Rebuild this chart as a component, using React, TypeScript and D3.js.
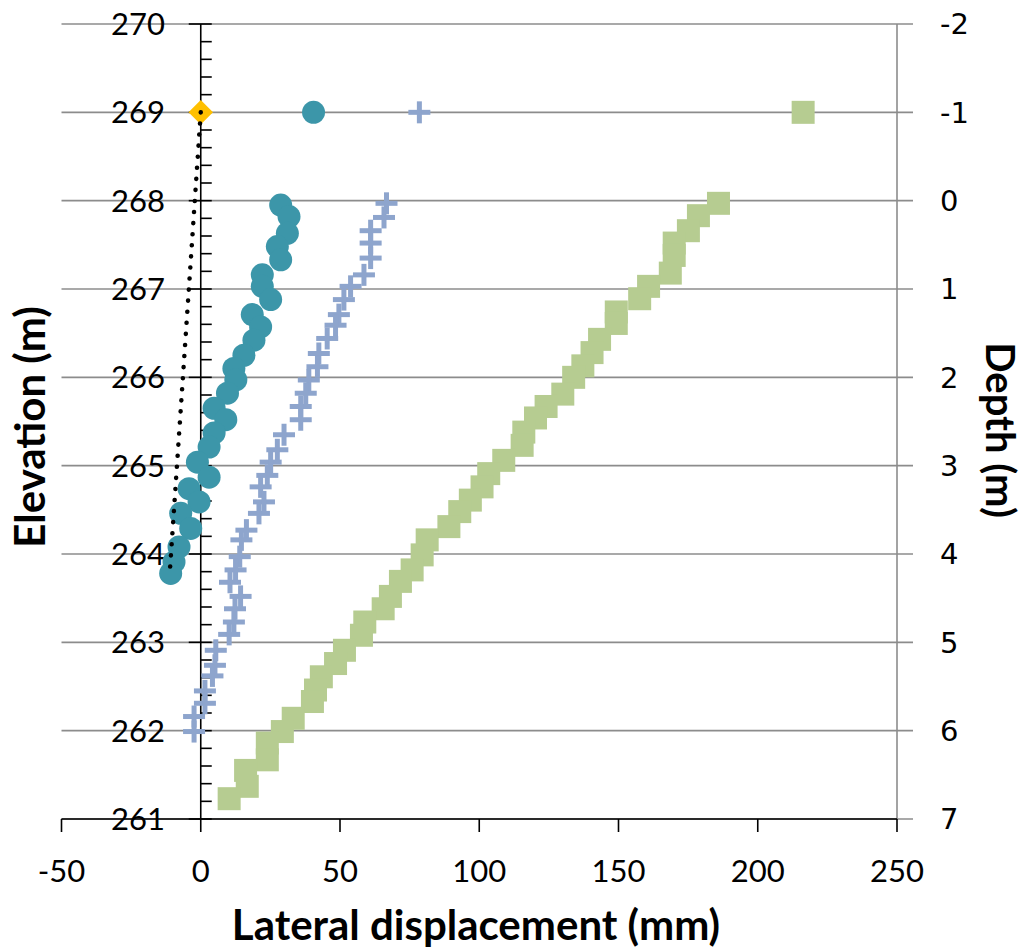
import React from "react";
import * as d3 from "d3";

const xTicks = [-50, 0, 50, 100, 150, 200, 250];
const yTicks = [261, 262, 263, 264, 265, 266, 267, 268, 269, 270];
const depthLabels = ["7", "6", "5", "4", "3", "2", "1", "0", "-1", "-2"];

// Surface reference (diamond) and dotted line
const refPoint = { x: 0, y: 269 };
const dottedX = [0, -11];
const dottedY = [269, 263.85];

// Circles series
const circX = [40.5, 28.7, 31.7, 31.1, 27.5, 28.7, 22.1, 22.1, 25.1, 18.5, 21.5, 19.1, 15.5, 11.9, 12.6, 9.6, 4.8, 9.0, 4.8, 3.0, -1.2, 3.0, -4.2, -0.6, -7.2, -3.6, -7.8, -9.6, -10.8];
const circY = [269, 267.95, 267.82, 267.63, 267.48, 267.33, 267.16, 267.03, 266.88, 266.71, 266.57, 266.42, 266.25, 266.10, 265.97, 265.82, 265.65, 265.52, 265.37, 265.21, 265.04, 264.87, 264.74, 264.59, 264.46, 264.29, 264.08, 263.91, 263.78];

// Cross series
const crossX = [78.5, 66.7, 65.8, 61.0, 61.0, 61.0, 58.6, 53.8, 51.4, 49.6, 48.4, 45.4, 42.4, 41.9, 38.8, 37.7, 35.9, 35.9, 29.9, 27.5, 25.1, 23.9, 21.5, 22.7, 20.9, 16.4, 14.6, 14.0, 12.5, 10.5, 14.3, 12.3, 11.9, 10.2, 5.4, 5.1, 4.2, 1.5, 1.5, -2.4, -2.4];
const crossY = [269, 267.97, 267.81, 267.66, 267.52, 267.35, 267.16, 267.03, 266.88, 266.71, 266.59, 266.44, 266.27, 266.12, 265.97, 265.82, 265.67, 265.52, 265.35, 265.18, 265.04, 264.89, 264.76, 264.59, 264.46, 264.27, 264.16, 263.97, 263.82, 263.68, 263.52, 263.38, 263.23, 263.09, 262.91, 262.74, 262.62, 262.45, 262.31, 262.16, 261.99];

// Square series
const sqX = [216.3, 185.9, 178.7, 175.1, 170.0, 170.0, 168.6, 160.8, 157.6, 149.2, 149.2, 143.2, 140.5, 137.2, 133.9, 130.0, 124.0, 120.2, 116.0, 115.4, 108.8, 103.4, 101.0, 96.8, 93.0, 89.1, 81.3, 79.5, 75.9, 71.7, 68.1, 65.5, 58.9, 57.7, 51.6, 48.4, 43.3, 41.2, 40.1, 33.2, 29.3, 23.9, 23.9, 16.1, 16.7, 10.2];
const sqY = [269, 267.97, 267.83, 267.66, 267.52, 267.38, 267.18, 267.03, 266.89, 266.74, 266.61, 266.43, 266.28, 266.13, 266.0, 265.81, 265.67, 265.54, 265.38, 265.23, 265.06, 264.91, 264.76, 264.61, 264.48, 264.31, 264.16, 263.99, 263.82, 263.69, 263.52, 263.38, 263.23, 263.08, 262.91, 262.76, 262.61, 262.46, 262.33, 262.14, 261.99, 261.86, 261.67, 261.55, 261.37, 261.23];

const W = 1029;
const H = 948;
const x = d3.scaleLinear().domain([-50, 250]).range([61.5, 897]);
const y = d3.scaleLinear().domain([261, 270]).range([819, 24]);

const minorTicks = d3.range(261, 270.001, 0.2).filter((v) => Math.abs(v - Math.round(v)) > 0.01);

const labelFont = "Lato, 'Open Sans', sans-serif";
const titleFont = "Lato, 'Open Sans', sans-serif";

export default function App() {
  const dotted = d3.line<number>().x((d, i) => x(dottedX[i])).y((d, i) => y(dottedY[i]))(dottedX);
  const diamond = d3.symbol().type(d3.symbolSquare).size(300)();
  return (
    <svg width={W} height={H} style={{ position: "absolute", left: 0, top: 0, background: "#fff" }}>
      {/* gridlines */}
      {yTicks.map((t) => (
        <line key={"g" + t} x1={x(-50)} x2={x(250) + 16} y1={y(t)} y2={y(t)} stroke="#8c8c8c" strokeWidth={1.6} />
      ))}
      {/* right axis */}
      <line x1={x(250)} x2={x(250)} y1={y(270)} y2={y(261)} stroke="#8c8c8c" strokeWidth={1.6} />
      {/* x axis */}
      <line x1={x(-50)} x2={x(250)} y1={y(261)} y2={y(261)} stroke="#000" strokeWidth={1.6} />
      {xTicks.map((t) => (
        <line key={"xt" + t} x1={x(t)} x2={x(t)} y1={y(261)} y2={y(261) + 13} stroke="#000" strokeWidth={1.6} />
      ))}
      {/* left axis at x=0 */}
      <line x1={x(0)} x2={x(0)} y1={y(270)} y2={y(261)} stroke="#000" strokeWidth={1.6} />
      {yTicks.map((t) => (
        <line key={"yt" + t} x1={x(0) - 12} x2={x(0) + 11} y1={y(t)} y2={y(t)} stroke="#000" strokeWidth={1.6} />
      ))}
      {minorTicks.map((t) => (
        <line key={"ym" + t} x1={x(0)} x2={x(0) + 11} y1={y(t)} y2={y(t)} stroke="#000" strokeWidth={1.6} />
      ))}
      {/* tick labels */}
      {yTicks.map((t) => (
        <text key={"yl" + t} x={165} y={y(t)} dy="0.36em" textAnchor="end" fontFamily={labelFont} fontSize={31} fill="#000">
          {t}
        </text>
      ))}
      {yTicks.map((t, i) => (
        <text key={"dl" + t} x={940} y={y(t)} dy="0.36em" textAnchor="start" fontFamily="'DejaVu Sans', sans-serif" fontSize={29} fill="#000">
          {depthLabels[i]}
        </text>
      ))}
      {xTicks.map((t) => (
        <text key={"xl" + t} x={x(t)} y={882} textAnchor="middle" fontFamily={labelFont} fontSize={31} fill="#000">
          {t}
        </text>
      ))}
      {/* titles */}
      <text x={476} y={940} textAnchor="middle" fontFamily={titleFont} fontWeight="bold" fontSize={42} fill="#000">
        Lateral displacement (mm)
      </text>
      <text transform="translate(45,427) rotate(-90)" textAnchor="middle" fontFamily={titleFont} fontWeight="bold" fontSize={42} fill="#000">
        Elevation (m)
      </text>
      <text transform="translate(986,430) rotate(90)" textAnchor="middle" fontFamily={titleFont} fontWeight="bold" fontSize={40} fill="#000">
        Depth (m)
      </text>
      {/* circles */}
      {circX.map((v, i) => (
        <circle key={"c" + i} cx={x(v)} cy={y(circY[i])} r={11.5} fill="#3c96a9" />
      ))}
      {/* crosses */}
      {crossX.map((v, i) => (
        <g key={"p" + i} transform={`translate(${x(v)},${y(crossY[i])})`} stroke="#8ea5cd" strokeWidth={5}>
          <line x1={-11} x2={11} y1={0} y2={0} />
          <line x1={0} x2={0} y1={-11} y2={11} />
        </g>
      ))}
      {/* squares */}
      {sqX.map((v, i) => (
        <rect key={"s" + i} x={x(v) - 11.5} y={y(sqY[i]) - 11.5} width={23} height={23} fill="#b6cc91" />
      ))}
      {/* diamond */}
      <path d={diamond as string} transform={`translate(${x(refPoint.x)},${y(refPoint.y)}) rotate(45)`} fill="#ffc000" />
      {/* dotted line */}
      <path d={dotted as string} fill="none" stroke="#000" strokeWidth={4.5} strokeDasharray="0.1 11" strokeLinecap="round" />
    </svg>
  );
}
